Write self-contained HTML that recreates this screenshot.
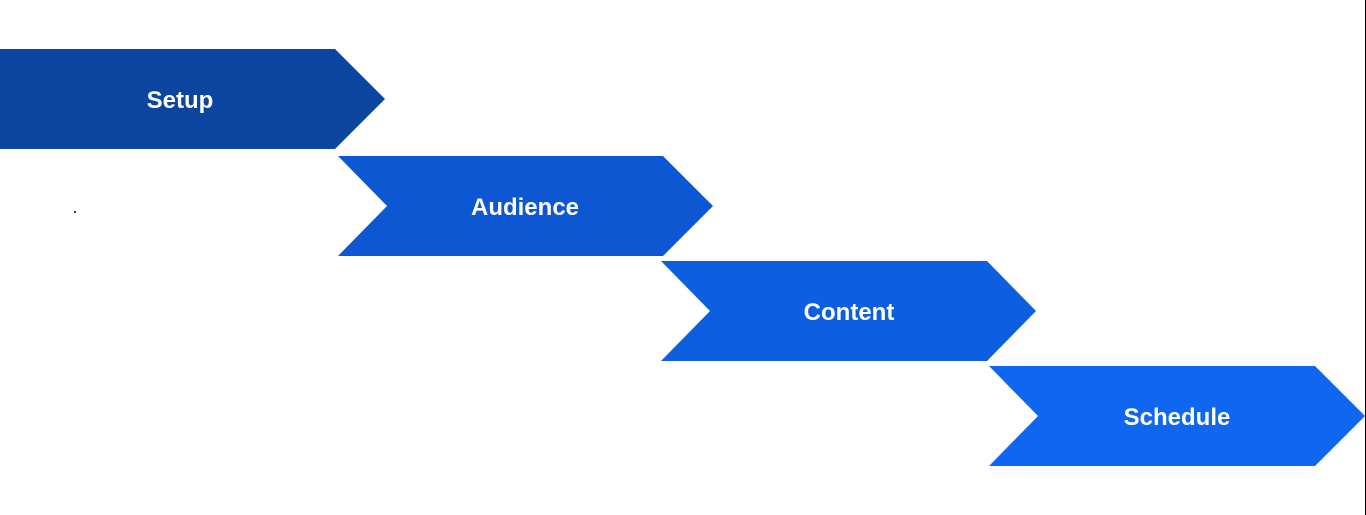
<!DOCTYPE html>
<html><head><style>
html,body{margin:0;padding:0;background:#fff;width:1366px;height:515px;overflow:hidden;position:relative}
svg{position:absolute;left:0;top:0}
</style></head><body>
<svg width="1366" height="515" xmlns="http://www.w3.org/2000/svg">
<polygon points="0,49 335,49 385,99 335,149 0,149" fill="#0B45A0"/>
<polygon points="338,156 663,156 713,206 663,256 338,256 387,206" fill="#0E57D2"/>
<polygon points="661,261 987,261 1036,311 987,361 661,361 710,311" fill="#0E5FE0"/>
<polygon points="989,366 1315,366 1365,416 1315,466 989,466 1038,416" fill="#0F66F0"/>
<rect x="1365" y="0" width="1" height="515" fill="#000"/>
<circle cx="75" cy="212" r="1" fill="#000"/>
<g font-family="Liberation Sans, sans-serif" font-weight="bold" font-size="24" fill="#fff" text-anchor="middle">
<text x="180" y="108">Setup</text>
<text x="525" y="215">Audience</text>
<text x="849" y="320">Content</text>
<text x="1177" y="425">Schedule</text>
</g>
</svg>
</body></html>
